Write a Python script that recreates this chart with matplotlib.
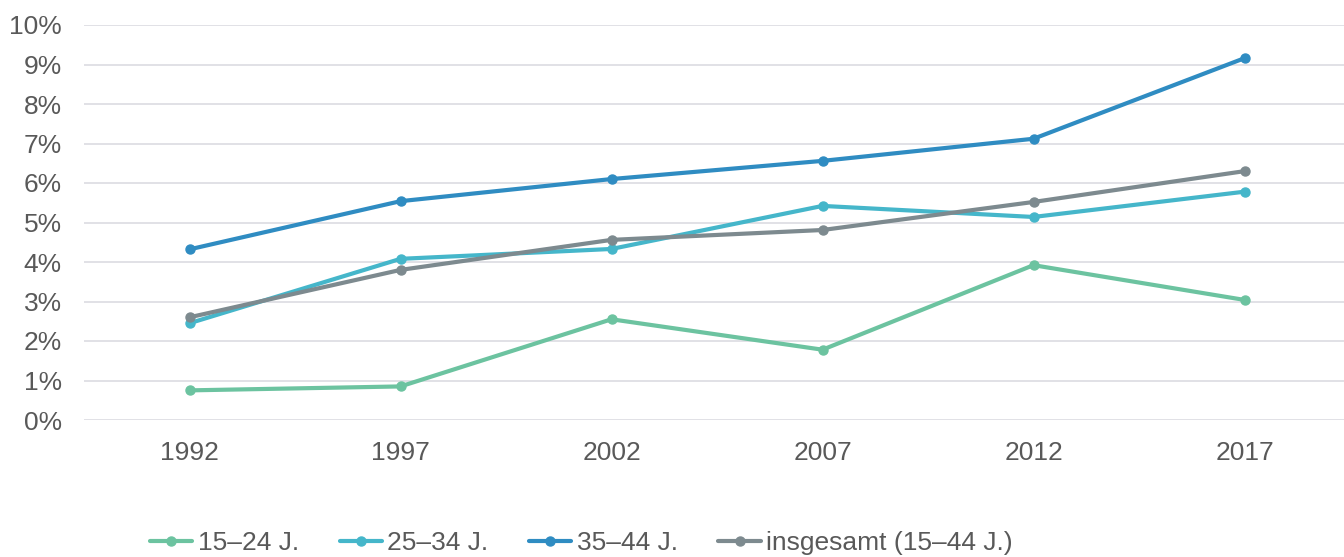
import matplotlib
matplotlib.use("Agg")
import matplotlib.pyplot as plt
from matplotlib.ticker import FuncFormatter

years = ["1992", "1997", "2002", "2007", "2012", "2017"]
series_labels = ["15–24 J.", "25–34 J.", "35–44 J.", "insgesamt (15–44 J.)"]
age_15_24 = [0.75, 0.85, 2.55, 1.78, 3.92, 3.04]
age_25_34 = [2.45, 4.08, 4.33, 5.42, 5.14, 5.78]
age_35_44 = [4.32, 5.54, 6.10, 6.56, 7.12, 9.16]
total = [2.60, 3.80, 4.56, 4.81, 5.52, 6.30]

colors = ["#6cc3a0", "#45b6ca", "#2f8cc2", "#7d8a8f"]
text_color = "#595959"

plt.rcParams["font.family"] = ["Liberation Sans", "DejaVu Sans"]

fig = plt.figure(figsize=(13.44, 5.57), dpi=100)
W, H = 1344, 557
ax = fig.add_axes([84 / W, (H - 420) / H, 1260 / W, 395 / H])

x = range(len(years))
for vals, lab, col in zip([age_15_24, age_25_34, age_35_44, total], series_labels, colors):
    ax.plot(x, vals, color=col, lw=3.0, marker="o", markersize=6.5,
            label=lab, solid_capstyle="round", solid_joinstyle="round")

ax.set_xlim(-0.5, -0.5 + 1260 / 211)
ax.set_ylim(0, 10)
ax.set_yticks(range(0, 11))
ax.yaxis.set_major_formatter(FuncFormatter(lambda v, p: f"{int(v)}%"))
ax.set_xticks(list(x))
ax.set_xticklabels(years)
ax.grid(axis="y", color="#d9d9df", lw=1.1)
ax.set_axisbelow(True)
for s in ax.spines.values():
    s.set_visible(False)
ax.tick_params(axis="both", length=0, labelsize=19, labelcolor=text_color)
ax.tick_params(axis="y", pad=16)
ax.tick_params(axis="x", pad=15)

leg = fig.legend(loc="center left", bbox_to_anchor=(150 / W, 1 - 543 / H), ncol=4,
                 frameon=False, handlelength=1.6, handletextpad=0.2,
                 columnspacing=1.55, borderaxespad=0, borderpad=0,
                 prop={"family": ["Liberation Sans", "DejaVu Sans"], "size": 19})
for t in leg.get_texts():
    t.set_color(text_color)

fig.savefig("out.png", dpi=100)
